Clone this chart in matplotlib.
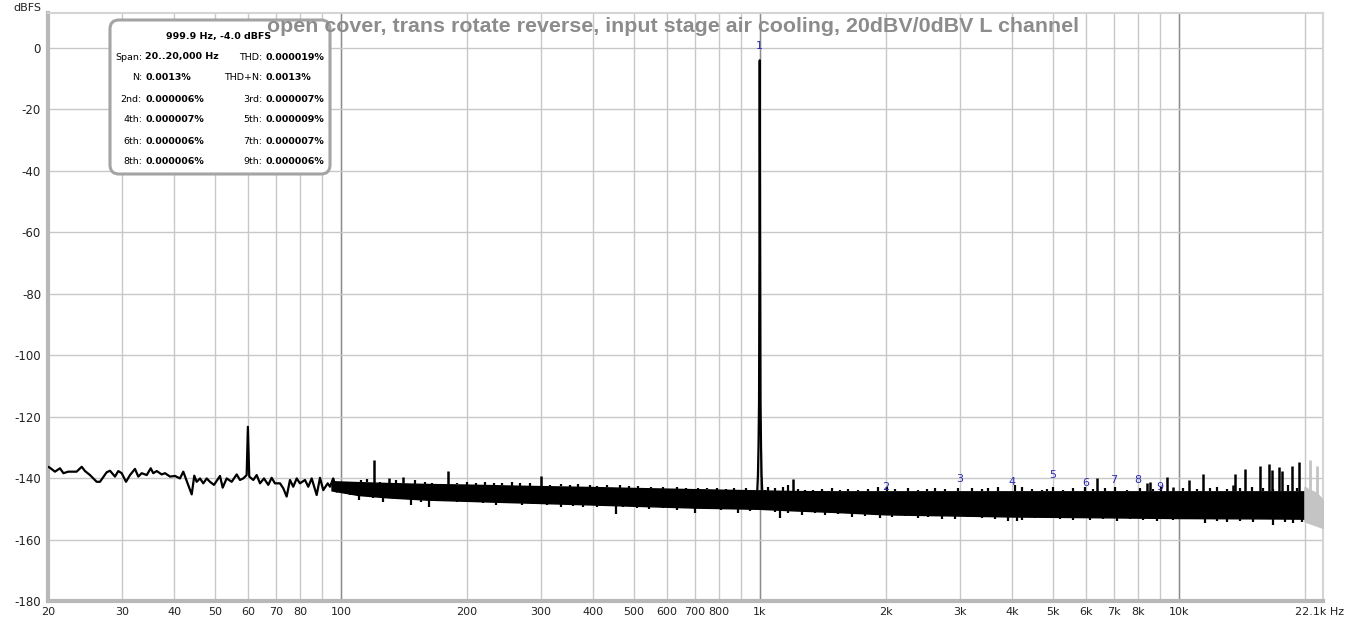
import numpy as np
import matplotlib.pyplot as plt
from matplotlib.patches import FancyBboxPatch
from matplotlib.transforms import IdentityTransform

W, H = 1346, 624

# low-frequency trace, 20..100 Hz
lf_freq = [20.0, 20.2, 20.78, 21.36, 21.77, 22.36, 23.41, 24.07, 24.51, 25.19,
           26.14, 26.61, 27.61, 28.12, 28.9, 29.43, 29.99, 30.71, 31.39, 32.26,
           32.85, 33.47, 34.41, 35.17, 35.67, 36.35, 37.36, 38.05, 39.11, 40.2,
           41.31, 42.07, 42.86, 44.06, 44.69, 45.28, 46.12, 46.95, 47.85, 48.71,
           49.8, 51.47, 52.24, 53.4, 54.88, 56.42, 57.44, 58.49, 59.6, 60.0,
           60.45, 61.81, 62.97, 64.13, 65.55, 67.11, 68.38, 69.63, 71.57, 72.88,
           74.25, 75.62, 76.99, 78.46, 79.88, 82.12, 83.61, 85.2, 87.57, 89.18,
           90.8, 93.04, 94.2, 95.92, 97.73, 99.53]
lf_db = [-136.3, -136.6, -137.9, -136.8, -138.4, -137.9, -137.9, -136.3, -137.7, -139.0,
         -141.2, -141.2, -138.1, -137.6, -139.5, -137.7, -138.4, -141.2, -139.0, -137.0,
         -139.5, -138.4, -139.0, -136.8, -138.4, -137.7, -138.8, -138.4, -139.5, -139.3,
         -140.1, -137.9, -140.9, -145.3, -139.2, -141.2, -140.1, -141.7, -140.1, -141.2,
         -142.2, -139.3, -143.1, -140.1, -141.2, -138.8, -140.6, -140.1, -139.0, -123.3,
         -139.5, -140.6, -139.0, -141.7, -140.1, -142.2, -139.9, -141.7, -141.7, -143.3,
         -146.0, -140.6, -142.8, -140.1, -141.7, -140.6, -142.8, -140.1, -145.5, -139.9,
         -143.9, -141.7, -142.8, -140.1, -144.4, -141.7]

# dense noise floor: solid core of the black band
floor_freq = [95, 110, 130, 160, 200, 250, 300, 400, 500, 700, 1000, 1200, 1500, 2000,
              3000, 4000, 6000, 10000, 15000, 20000]
floor_top = [-141.0, -141.3, -141.6, -141.9, -142.1, -142.4, -142.6, -142.9, -143.2, -143.6,
             -144.0, -144.2, -144.3, -144.3, -144.3, -144.3, -144.3, -144.3, -144.3, -144.3]
floor_bottom = [-144.0, -145.5, -146.3, -147.0, -147.4, -147.8, -148.1, -148.6, -149.0, -149.6,
                -150.0, -150.5, -151.0, -151.8, -152.2, -152.5, -152.7, -153.0, -153.1, -153.2]

# above 20 kHz, drawn grey
alias_freq = [20000, 20500, 21000, 21500, 22000, 22100]
alias_top = [-143.0, -144.0, -144.5, -145.5, -147.0, -147.5]
alias_bottom = [-154.0, -154.5, -155.0, -155.5, -156.0, -156.0]
alias_spike_freq = [20560, 21400]
alias_spike_db = [-134.1, -136.1]

# fundamental
fund_freq = [975, 985, 990, 993, 996, 998.5, 999.9, 1001.5, 1004, 1007, 1010, 1015, 1025]
fund_db = [-148, -146, -139, -130, -115, -60, -4.0, -60, -115, -130, -139, -146, -148]

# spurs sticking out above the floor
spur_freq = [120, 130, 141, 180, 300, 1200, 6390, 8410, 8530, 9390, 9700, 10590,
             11400, 13490, 13610, 14380, 15620, 16410, 16710, 17370, 17650, 18590, 19380]
spur_db = [-134.1, -140.0, -139.6, -137.6, -139.2, -140.4, -139.9, -141.7, -141.2, -139.5,
           -142.8, -140.6, -138.7, -142.2, -138.7, -137.0, -136.0, -135.4, -137.4, -136.3,
           -137.6, -136.0, -134.7]

# ragged top edge of the floor
jag_freq = [95.9, 102.3, 107.1, 111.8, 115.3, 124.0, 135.5, 150.6, 158.4, 164.7, 189.5, 200,
            210.6, 221, 232, 242, 256, 267.7, 283, 316, 335, 352, 368, 393, 408, 433, 464,
            487, 511, 549, 588, 635, 665, 711, 748, 789, 830, 866, 929,
            1029, 1047, 1087, 1138, 1169, 1235, 1281, 1341, 1404, 1484, 1553, 1626, 1717,
            1815, 1917, 2008, 2102, 2260, 2389, 2502, 2618, 2766, 2977, 3204, 3384, 3510,
            3707, 4065, 4216, 4454, 4706, 4836, 5016, 5300, 5598, 5970, 6248, 6662, 7040,
            7508, 8078, 8690, 9050, 10246, 11028, 11866, 12314, 13004, 13994, 14920, 15904,
            16770, 18250, 19108]
jag_db = [-140.1, -141.7, -141.2, -140.6, -140.4, -141.2, -140.6, -140.6, -141.2, -141.5,
          -141.7, -141.2, -141.7, -141.2, -141.7, -141.5, -141.2, -141.7, -141.7, -142.2,
          -141.9, -142.2, -141.9, -142.2, -142.6, -142.2, -142.2, -142.6, -142.6, -142.8,
          -142.8, -143.0, -143.3, -143.3, -143.3, -143.3, -143.7, -143.3, -143.3,
          -143.9, -142.8, -143.3, -142.8, -142.2, -143.7, -143.9, -143.9, -143.7, -143.3,
          -143.9, -143.7, -143.9, -143.7, -142.8, -142.8, -143.7, -143.3, -143.9, -143.7,
          -143.3, -143.7, -143.3, -143.3, -143.7, -143.3, -142.8, -142.2, -142.8, -143.7,
          -143.9, -143.7, -142.8, -143.9, -143.3, -142.8, -143.7, -143.3, -142.8, -143.9,
          -143.3, -143.7, -142.8, -143.3, -143.7, -143.3, -142.8, -143.7, -143.3, -142.8,
          -143.3, -143.7, -142.2, -143.3]

# ragged bottom edge / dips below the floor
dip_freq = [97.4, 104.9, 110.3, 119.6, 126.3, 135.5, 147.2, 155, 162.3, 172.6, 189.5, 203,
            218, 234, 252, 270, 288, 310, 335, 359, 379, 408, 453, 472, 508, 545, 588, 635,
            700, 748, 808, 888, 950,
            1029, 1087, 1117, 1169, 1258, 1354, 1430, 1539, 1656, 1782, 1935, 2064, 2220,
            2389, 2524, 2716, 2922, 3144, 3384, 3641, 3918, 4102, 4216, 4536, 4746, 4836,
            5204, 5598, 6138, 6600, 7104, 7644, 8226, 8852, 9700, 10440, 11540, 12314,
            13004, 13994, 15054, 16770, 17920, 18754, 19640]
dip_db = [-144.4, -145.5, -147.1, -146.6, -147.7, -146.6, -148.8, -147.7, -149.3, -147.1,
          -147.7, -147.3, -148.0, -148.8, -148.2, -148.8, -148.4, -148.8, -149.3, -149.1,
          -149.5, -149.3, -151.7, -149.5, -149.8, -150.2, -149.8, -150.4, -151.3, -150.2,
          -150.4, -151.5, -150.6,
          -149.8, -150.9, -153.1, -151.5, -152.0, -151.5, -152.0, -151.7, -152.6, -152.3,
          -153.1, -152.8, -152.3, -153.1, -152.6, -153.4, -153.4, -152.8, -153.1, -153.4,
          -153.9, -154.0, -153.6, -153.1, -152.8, -153.1, -153.4, -153.6, -153.6, -153.4,
          -153.9, -153.4, -153.6, -153.9, -153.6, -153.4, -154.7, -153.9, -154.2, -153.9,
          -154.2, -155.3, -154.2, -154.5, -154.2]

# harmonic markers
harm_freq = [1000, 2000, 3000, 4000, 5000, 6000, 7000, 8000, 9000]
harm_label = ["1", "2", "3", "4", "5", "6", "7", "8", "9"]
harm_label_db = [0.7, -142.9, -140.3, -141.3, -139.0, -141.6, -140.6, -140.6, -142.9]

y_ticks = [0, -20, -40, -60, -80, -100, -120, -140, -160, -180]
x_ticks = [20, 30, 40, 50, 60, 70, 80, 90, 100, 200, 300, 400, 500, 600, 700, 800, 900,
           1000, 2000, 3000, 4000, 5000, 6000, 7000, 8000, 9000, 10000, 20000]
x_tick_labels = ["20", "30", "40", "50", "60", "70", "80", "", "100", "200", "300", "400",
                 "500", "600", "700", "800", "", "1k", "2k", "3k", "4k", "5k", "6k", "7k",
                 "8k", "", "10k", ""]

title = "open cover, trans rotate reverse, input stage air cooling, 20dBV/0dBV L channel"
info_head = "999.9 Hz, -4.0 dBFS"
info_left = [("Span:", "20..20,000 Hz"), ("N:", "0.0013%"), ("2nd:", "0.000006%"),
             ("4th:", "0.000007%"), ("6th:", "0.000006%"), ("8th:", "0.000006%")]
info_right = [("THD:", "0.000019%"), ("THD+N:", "0.0013%"), ("3rd:", "0.000007%"),
              ("5th:", "0.000009%"), ("7th:", "0.000007%"), ("9th:", "0.000006%")]


def fx(x):
    return x / W


def fy(y):
    return 1 - y / H


fig = plt.figure(figsize=(W / 100, H / 100), dpi=100)
ax = fig.add_axes([fx(48), fy(601), (1323 - 48) / W, (601 - 13) / H])
ax.set_xscale("log")
ax.set_xlim(20, 22100)
ax.set_ylim(-180, 11.4)

# grid
for f in x_ticks:
    ax.axvline(f, color="#c8c8c8", lw=1, zorder=0)
for f in [100, 1000, 10000]:
    ax.axvline(f, color="#8c8c8c", lw=1, zorder=0)
for v in y_ticks:
    ax.axhline(v, color="#c8c8c8", lw=1, zorder=0)

lw = 1.6
ax.plot(lf_freq, lf_db, color="black", lw=lw, zorder=3)
ax.fill_between(floor_freq, floor_bottom, floor_top, color="black", lw=1, zorder=3)

lfloor = np.log10(floor_freq)
top_at = lambda f: np.interp(np.log10(f), lfloor, floor_top)
bot_at = lambda f: np.interp(np.log10(f), lfloor, floor_bottom)

ax.vlines(spur_freq, top_at(spur_freq), spur_db, color="black", lw=1.8, zorder=3)
ax.vlines(jag_freq, top_at(jag_freq), jag_db, color="black", lw=1.6, zorder=3)
ax.vlines(dip_freq, dip_db, bot_at(dip_freq), color="black", lw=1.6, zorder=3)

grey = "#c4c4c4"
ax.fill_between(alias_freq, alias_bottom, alias_top, color=grey, lw=lw, zorder=3)
ax.vlines(alias_spike_freq, np.interp(np.log10(alias_spike_freq), np.log10(alias_freq), alias_top),
          alias_spike_db, color=grey, lw=2, zorder=3)

ax.plot(fund_freq, fund_db, color="black", lw=lw, zorder=4)

for f, lab, v in zip(harm_freq, harm_label, harm_label_db):
    ax.text(f, v, lab, color="#2a2ab0", fontsize=8, ha="center", va="center", zorder=5)

# axes look
ax.set_yticks(y_ticks)
ax.set_yticklabels([str(v) for v in y_ticks])
ax.set_xticks(x_ticks)
ax.set_xticklabels(x_tick_labels)
ax.minorticks_off()
ax.tick_params(length=0, labelsize=8, colors="#222222")
ax.tick_params(axis="x", pad=4)
ax.tick_params(axis="y", pad=5, labelsize=8.5)
for s in ["left", "bottom"]:
    ax.spines[s].set_color("#b8b8b8")
    ax.spines[s].set_linewidth(3)
for s in ["top", "right"]:
    ax.spines[s].set_color("#d4d4d4")
    ax.spines[s].set_linewidth(1.5)

fig.text(fx(27), fy(8), "dBFS", fontsize=8, ha="center", va="center", color="#222222")
fig.text(fx(1344), fy(612), "22.1k Hz", fontsize=8, ha="right", va="center", color="#222222")

# info box
box = FancyBboxPatch((110, H - 174), 220, 154, boxstyle="round,pad=0,rounding_size=9",
                     transform=IdentityTransform(), fc="white", ec="#a4a4a4", lw=2.2, zorder=5)
fig.add_artist(box)
fig.text(fx(219), fy(37), info_head, fontsize=6.8, fontweight="bold", ha="center", va="center",
         zorder=6)
rows_y = [57, 78, 99, 120, 141, 161]
for y, (l1, v1), (l2, v2) in zip(rows_y, info_left, info_right):
    fig.text(fx(142), fy(y), l1, fontsize=6.8, ha="right", va="center", zorder=6)
    fig.text(fx(145), fy(y), v1, fontsize=6.8, fontweight="bold", ha="left", va="center", zorder=6)
    fig.text(fx(262), fy(y), l2, fontsize=6.8, ha="right", va="center", zorder=6)
    fig.text(fx(265), fy(y), v2, fontsize=6.8, fontweight="bold", ha="left", va="center", zorder=6)

fig.text(fx(673), fy(27), title, fontsize=15.4, fontweight="bold", color="#8c8c8c",
         ha="center", va="center", family=["Liberation Sans", "DejaVu Sans"], zorder=7)

fig.savefig("out.png", dpi=100)
